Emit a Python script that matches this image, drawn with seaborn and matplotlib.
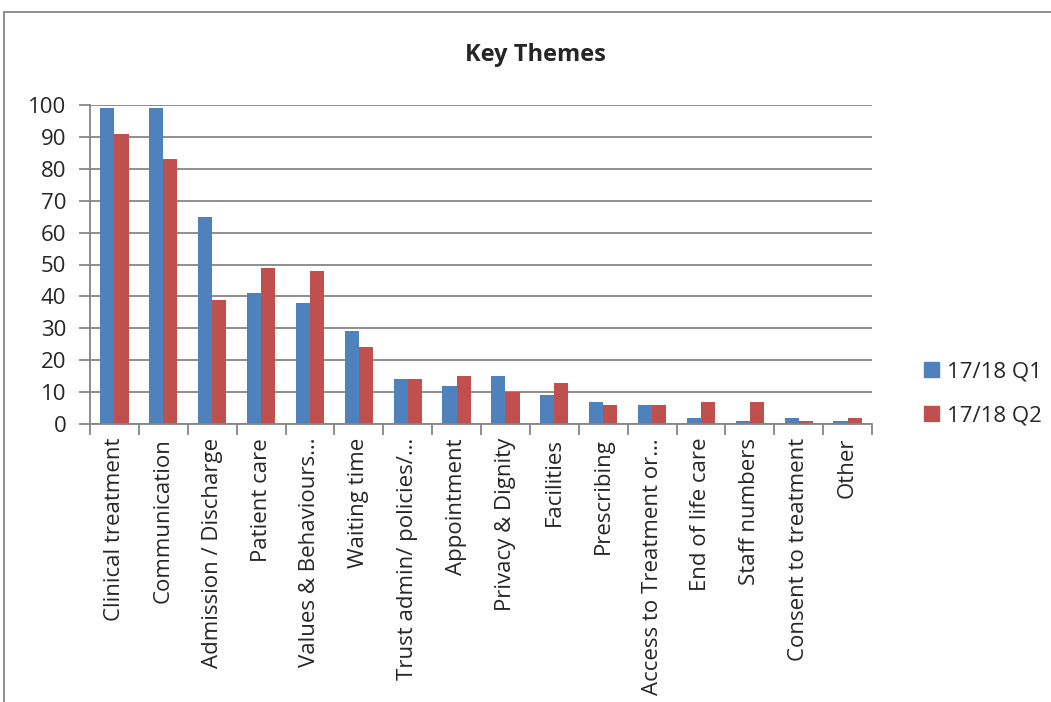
import matplotlib
matplotlib.use("Agg")
import matplotlib.pyplot as plt
import matplotlib.patches as mpatches
from matplotlib.ticker import FixedLocator, MultipleLocator
import seaborn as sns
import pandas as pd
import numpy as np

categories = ["Clinical treatment", "Communication", "Admission / Discharge", "Patient care",
              "Values & Behaviours\u2026", "Waiting time", "Trust admin/ policies/\u2026",
              "Appointment", "Privacy & Dignity", "Facilities", "Prescribing",
              "Access to Treatment or\u2026", "End of life care", "Staff numbers",
              "Consent to treatment", "Other"]
q1 = [99, 99, 65, 41, 38, 29, 14, 12, 15, 9, 7, 6, 2, 1, 2, 1]
q2 = [91, 83, 39, 49, 48, 24, 14, 15, 10, 13, 6, 6, 7, 7, 1, 2]
series = ["17/18 Q1", "17/18 Q2"]
colors = ["#4F81BD", "#C0504D"]

df = pd.DataFrame({
    "Theme": categories * 2,
    "Count": q1 + q2,
    "Series": [series[0]] * len(categories) + [series[1]] * len(categories),
})

sns.set_style("white")
plt.rcParams["font.family"] = ["Open Sans", "DejaVu Sans"]

fig = plt.figure(figsize=(10.51, 7.02), dpi=100)
ax = fig.add_axes([90 / 1051, 1 - 424 / 702, (872 - 90) / 1051, (424 - 105) / 702])

sns.barplot(data=df, x="Theme", y="Count", hue="Series", palette=colors,
            width=0.58, ax=ax, saturation=1, edgecolor="none", legend=True)

ax.set_ylim(0, 100)
ax.set_xlim(-0.5, len(categories) - 0.5)
ax.yaxis.set_major_locator(MultipleLocator(10))
ax.grid(axis="y", color="#868686", linewidth=1.3)
ax.set_axisbelow(True)
for s in ["top", "right"]:
    ax.spines[s].set_visible(False)
for s in ["left", "bottom"]:
    ax.spines[s].set_color("#868686")
    ax.spines[s].set_linewidth(1.3)

ax.set_xlabel("")
ax.set_ylabel("")
ax.tick_params(axis="y", which="major", left=True, length=8, color="#868686", width=1.3,
               labelsize=16, pad=9)
ax.set_xticks(range(len(categories)))
ax.set_xticklabels(categories, rotation=90)
ax.tick_params(axis="x", which="major", bottom=False, length=0, labelsize=16, pad=10)
ax.xaxis.set_minor_locator(FixedLocator(np.arange(-0.5, len(categories), 1.0)))
ax.tick_params(axis="x", which="minor", bottom=True, length=8, color="#868686", width=1.3)

ax.legend(handles=[mpatches.Patch(color=c, label=s) for s, c in zip(series, colors)],
          loc="center left", bbox_to_anchor=(913 / 1051, 1 - 394 / 702),
          bbox_transform=fig.transFigure, frameon=False, fontsize=16, borderpad=0,
          handlelength=0.65, handleheight=0.65, labelspacing=1.05, handletextpad=0.4)

fig.text(535 / 1051, 1 - 55 / 702, "Key Themes", ha="center", va="center",
         fontsize=17, fontweight="bold")

fig.patches.append(mpatches.Rectangle((4 / 1051, -0.1), 1.2, 1 - 12 / 702 + 0.1,
                                      transform=fig.transFigure, fill=False,
                                      edgecolor="#868686", linewidth=1.3))

fig.savefig("out.png", dpi=100)
